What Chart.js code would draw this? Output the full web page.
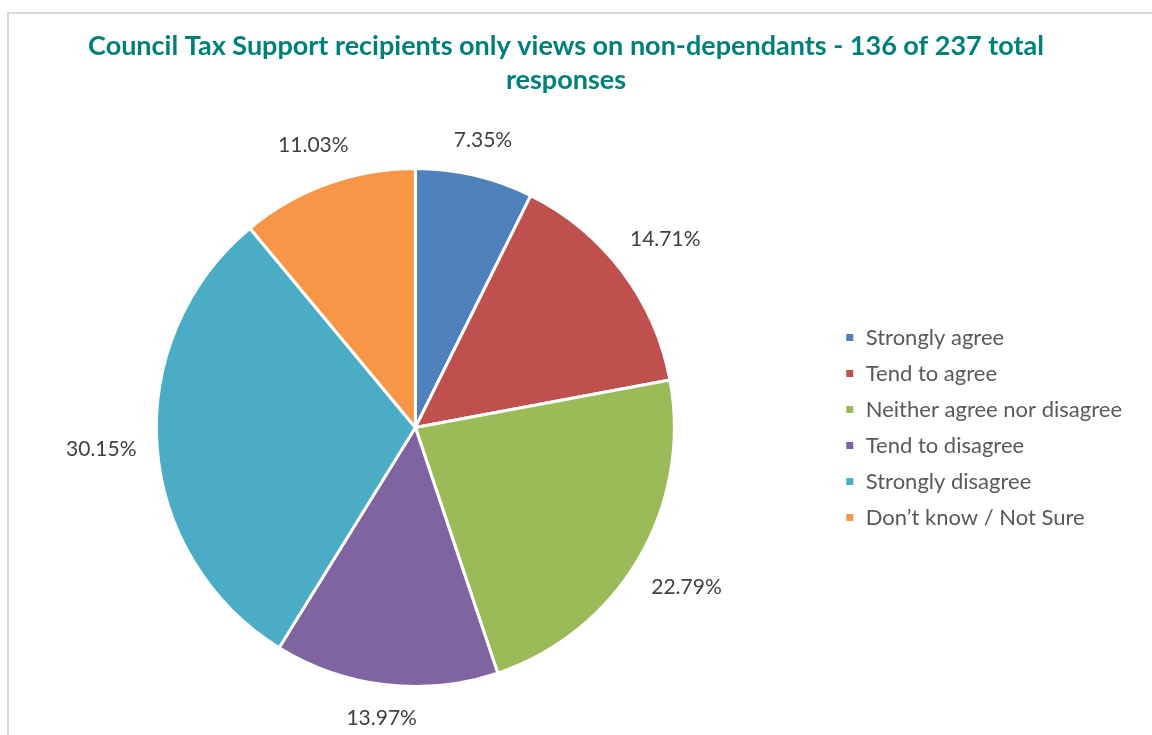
<!DOCTYPE html>
<html>
<head>
<meta charset="utf-8">
<script src="https://cdn.jsdelivr.net/npm/chart.js@4"></script>
<style>
    html, body { margin: 0; padding: 0; background: #fff; }
    #wrap { position: relative; width: 1152px; height: 735px; }
    #frame {
        position: absolute; left: 7px; top: 12px; right: -2px; bottom: -2px;
        border-left: 2px solid #d9d9d9; border-top: 2px solid #d9d9d9;
    }
    canvas { position: absolute; left: 0; top: 0; }
</style>
</head>
<body>
<div id="wrap">
    <div id="frame"></div>
    <canvas id="pieChart" width="1152" height="735"></canvas>
</div>
<script>
// Chart data
const categories = [
    'Strongly agree',
    'Tend to agree',
    'Neither agree nor disagree',
    'Tend to disagree',
    'Strongly disagree',
    'Don\u2019t know / Not Sure'
];
const percentages = [7.35, 14.71, 22.79, 13.97, 30.15, 11.03];
const sliceColors = ['#4F81BD', '#C0504D', '#9BBB59', '#8064A2', '#4BACC6', '#F79646'];
const titleLines = [
    'Council Tax Support recipients only views on non-dependants - 136 of 237 total',
    'responses'
];

const FONT = 'Lato, "Open Sans", sans-serif';

// Percentage labels outside each slice
const outsideLabels = {
    id: 'outsideLabels',
    afterDatasetsDraw(chart) {
        const ctx = chart.ctx;
        const meta = chart.getDatasetMeta(0);
        ctx.save();
        ctx.font = '21px ' + FONT;
        ctx.fillStyle = '#404040';
        ctx.textAlign = 'center';
        ctx.textBaseline = 'middle';
        meta.data.forEach((arc, i) => {
            const mid = (arc.startAngle + arc.endAngle) / 2;
            const text = percentages[i].toFixed(2) + '%';
            const w = ctx.measureText(text).width;
            const h = 20;
            const cos = Math.cos(mid), sin = Math.sin(mid);
            const half = Math.abs(cos) * w / 2 + Math.abs(sin) * h / 2;
            const dist = arc.outerRadius + 20 + half;
            ctx.fillText(text, arc.x + cos * dist, arc.y + sin * dist);
        });
        ctx.restore();
    }
};

new Chart(document.getElementById('pieChart'), {
    type: 'pie',
    data: {
        labels: categories,
        datasets: [{
            data: percentages,
            backgroundColor: sliceColors,
            borderColor: '#ffffff',
            borderWidth: 3
        }]
    },
    options: {
        responsive: false,
        animation: false,
        layout: {
            padding: { left: 0, right: 20, top: 0, bottom: 47 }
        },
        plugins: {
            title: {
                display: true,
                text: titleLines,
                color: '#00807A',
                font: { family: FONT, size: 27, weight: 'bold', lineHeight: 1.26 },
                padding: { top: 29, bottom: 70 }
            },
            legend: {
                position: 'right',
                fullSize: false,
                labels: {
                    color: '#595959',
                    font: { family: FONT, size: 22 },
                    boxWidth: 10,
                    boxHeight: 10,
                    padding: 14
                }
            },
            tooltip: { enabled: false }
        }
    },
    plugins: [outsideLabels]
});
</script>
</body>
</html>
